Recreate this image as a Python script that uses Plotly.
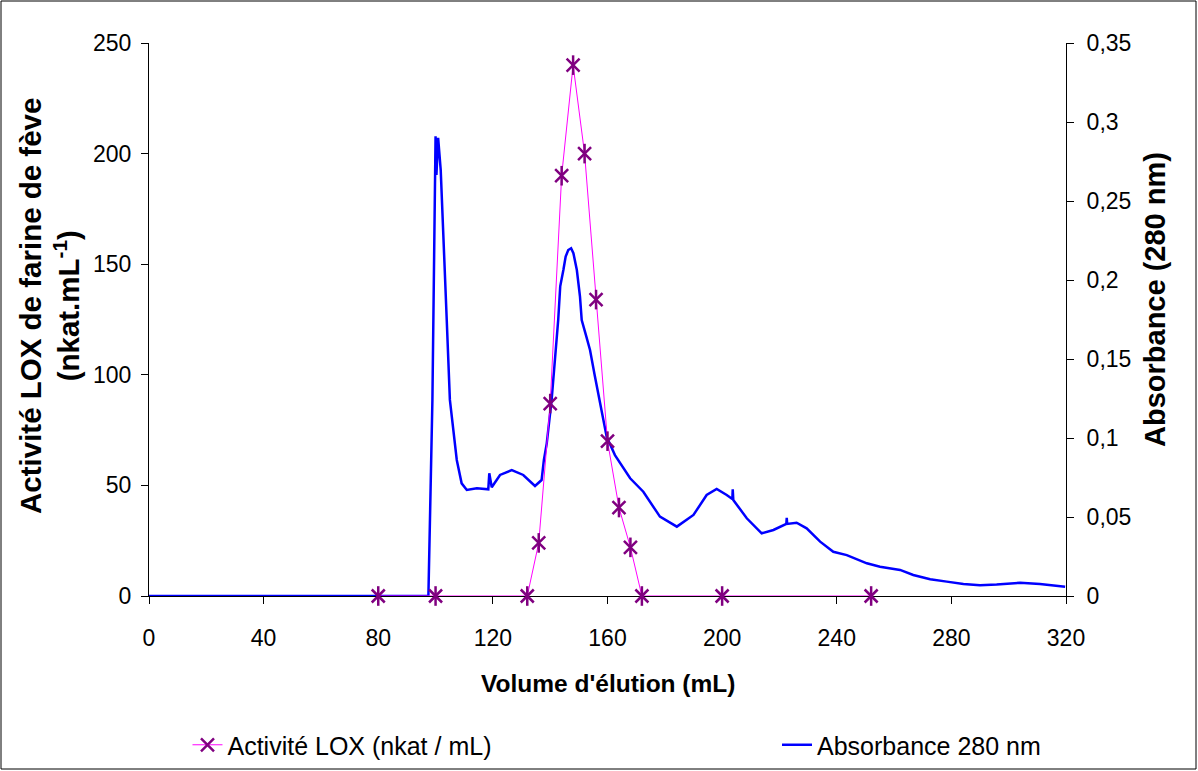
import plotly.graph_objects as go

# ---------------- data ----------------
lox_volume = [80, 100, 132, 136, 140, 144, 148, 152, 156, 160, 164, 168, 172, 200, 252]
lox_activity = [0, 0, 0, 24, 87, 190, 240, 200, 134, 70, 40, 22, 0, 0, 0]

abs_volume = [0, 97.5, 98.9, 100.0, 100.3, 100.9, 101.8, 102.7, 103.9, 105.0, 106.2,
              107.4, 109.1, 110.9, 114.4, 118.4, 118.75, 119.6, 122.5, 126.6, 130.6,
              134.7, 137.0, 137.8, 138.8, 139.9, 140.5, 142.8, 143.5, 144.6, 145.4, 146.3,
              147.3, 148.1, 149.3, 150.4, 151.0, 152.5, 153.9, 155.5, 157.1, 159.7, 162.6,
              166.1, 167.9, 172.5, 178.3,
              184.2, 190.0, 194.6, 198.1, 201.6, 203.56, 203.7, 203.9, 208.6, 213.8,
              217.9, 222.4, 222.55, 222.7, 226.0, 229.5, 234.2, 238.8, 243.5, 250.5,
              255.1, 262.1, 266.7, 272.6, 278.4, 284.2, 290.0, 295.8, 304.0, 310.9, 319.7]
abs_280 = [0, 0, 0.124, 0.291, 0.2665, 0.290, 0.2696, 0.2232, 0.1747, 0.1241, 0.1030,
           0.0861, 0.0713, 0.0671, 0.0682, 0.0675, 0.0777, 0.0688, 0.0766, 0.0797, 0.0766,
           0.0696, 0.0734, 0.0861, 0.0966, 0.1135, 0.1241, 0.1747, 0.1960, 0.2063, 0.2148, 0.2190,
           0.2201, 0.2170, 0.2063, 0.1895, 0.1747, 0.1650, 0.1557, 0.1400, 0.1241, 0.1008, 0.0892,
           0.0797, 0.0745, 0.0660, 0.0502,
           0.0439, 0.0513, 0.0639, 0.0677, 0.0639, 0.0614, 0.0675, 0.0608, 0.0492, 0.0397,
           0.0418, 0.0456, 0.0494, 0.0456, 0.0464, 0.0428, 0.0344, 0.0280, 0.0259, 0.0207,
           0.0185, 0.0165, 0.0133, 0.0106, 0.0091, 0.0076, 0.0068, 0.0072, 0.0084, 0.0076, 0.0059]

x_ticks = [0, 40, 80, 120, 160, 200, 240, 280, 320]
lox_ticks = [0, 50, 100, 150, 200, 250]
abs_ticks = [0, 0.05, 0.1, 0.15, 0.2, 0.25, 0.3, 0.35]
abs_ticktext = ["0", "0,05", "0,1", "0,15", "0,2", "0,25", "0,3", "0,35"]

FONT = "Liberation Sans, Arial, sans-serif"

fig = go.Figure()

# Absorbance on yaxis (right side)
fig.add_trace(go.Scatter(
    x=abs_volume, y=abs_280, mode="lines", name="Absorbance 280 nm",
    line=dict(color="#0000FF", width=2.5), yaxis="y", cliponaxis=False,
    legend="legend2",
))

# LOX activity on yaxis2 (left side, drawn on top)
fig.add_trace(go.Scatter(
    x=lox_volume, y=lox_activity, mode="lines+markers", name="Activité LOX (nkat / mL)",
    line=dict(color="#FF00FF", width=1),
    marker=dict(symbol="x-thin-open", size=13, color="#800080",
                line=dict(color="#800080", width=2.5)),
    yaxis="y2", cliponaxis=False, legend="legend",
))
fig.add_trace(go.Scatter(
    x=lox_volume, y=lox_activity, mode="markers", showlegend=False, hoverinfo="skip",
    marker=dict(symbol="line-ns-open", size=14, color="#800080",
                line=dict(color="#800080", width=2.5)),
    yaxis="y2", cliponaxis=False,
))

axis_common = dict(showgrid=False, zeroline=False, showline=True, linecolor="#000000",
                   linewidth=1, ticks="outside", ticklen=7, tickcolor="#000000",
                   tickfont=dict(family=FONT, size=23, color="#000000"))

fig.update_layout(
    width=1198, height=771,
    margin=dict(l=149, r=132, t=43, b=175, autoexpand=False),
    paper_bgcolor="white", plot_bgcolor="white",
    font=dict(family=FONT, color="#000000"),
    xaxis=dict(range=[0, 320], tickvals=x_ticks, ticklabelstandoff=14,
               layer="below traces", **axis_common),
    yaxis=dict(range=[0, 0.35], side="right", tickvals=abs_ticks, ticktext=abs_ticktext,
               ticklabelstandoff=8, layer="below traces", **axis_common),
    yaxis2=dict(range=[0, 250], side="left", overlaying="y", tickvals=lox_ticks,
                ticklabelstandoff=5, layer="below traces", **axis_common),
    legend=dict(orientation="h", xref="container", yref="container",
                x=0.1565, y=0.0337, xanchor="left", yanchor="middle",
                font=dict(family=FONT, size=25, color="#000000"), bgcolor="rgba(0,0,0,0)"),
    legend2=dict(orientation="h", xref="container", yref="container",
                 x=0.6486, y=0.0337, xanchor="left", yanchor="middle",
                 font=dict(family=FONT, size=25, color="#000000"), bgcolor="rgba(0,0,0,0)"),
    showlegend=True,
)

fig.add_annotation(text="<b>Volume d'élution (mL)</b>", xref="paper", yref="paper",
                   x=0.5, y=(596 - 683) / 553, xanchor="center", yanchor="middle",
                   showarrow=False, font=dict(family=FONT, size=24.5, color="#000000"))
fig.add_annotation(text="<b>Activité LOX de farine de fève<br>(nkat.mL<sup>-1</sup>)</b>",
                   xref="paper", yref="paper", x=(49 - 149) / 917, y=(596 - 306) / 553,
                   xanchor="center", yanchor="middle", textangle=-90, showarrow=False,
                   font=dict(family=FONT, size=29.5, color="#000000"))
fig.add_annotation(text="<b>Absorbance (280 nm)</b>", xref="paper", yref="paper",
                   x=(1155 - 149) / 917, y=(596 - 300) / 553, xanchor="center",
                   yanchor="middle", textangle=-90, showarrow=False,
                   font=dict(family=FONT, size=29, color="#000000"))

# outer border of the chart area
fig.add_shape(type="rect", xref="paper", yref="paper",
              x0=(1 - 149) / 917, x1=(1196 - 149) / 917,
              y0=(596 - 769) / 553, y1=(596 - 1) / 553,
              line=dict(color="#000000", width=1), fillcolor="rgba(0,0,0,0)")

fig.write_html("out.html", config={"displayModeBar": False},
               post_script="document.body.style.margin='0';")
